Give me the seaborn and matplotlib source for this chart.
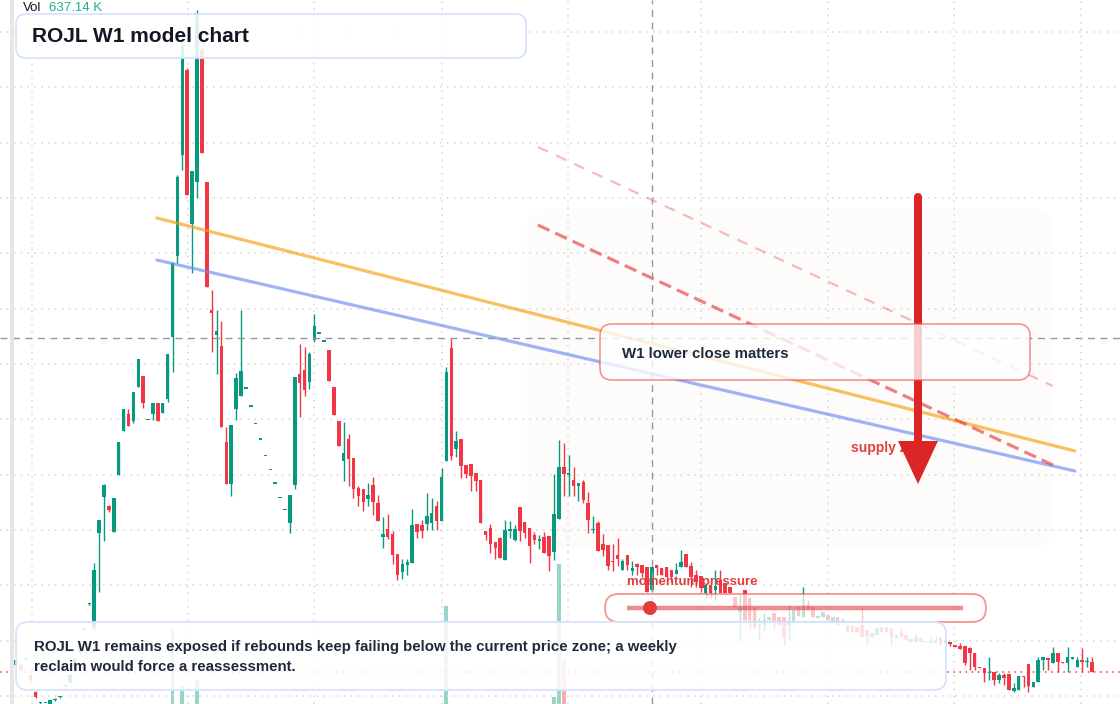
import numpy as np
import pandas as pd
import matplotlib
matplotlib.use("Agg")
import matplotlib.pyplot as plt
import seaborn as sns
from matplotlib.patches import FancyBboxPatch, FancyArrow, Rectangle, Circle

# weekly candles, prices (arbitrary price units)
opens = [0.39, 0.39, 0.45, 0.29, 0.12, 0.01, 0.01, 0.00, 0.04, 0.07,
         0.18, 0.22, 0.37, 0.52, 0.75, 1.00, 0.76, 1.71, 2.07, 1.98,
         1.72, 2.29, 2.73, 2.90, 2.83, 3.17, 3.28, 2.84, 2.90, 3.01,
         2.91, 3.05, 3.67, 4.48, 5.49, 6.34, 4.80, 5.22, 6.54, 5.22,
         3.94, 3.69, 3.58, 2.62, 2.20, 2.95, 3.08, 3.15, 2.97, 2.80,
         2.64, 2.48, 2.34, 2.20, 2.06, 1.94, 1.81, 2.19, 3.30, 3.34,
         3.22, 3.64, 3.70, 3.62, 3.54, 3.17, 2.83, 2.43, 2.65, 2.46,
         2.16, 2.15, 2.05, 2.19, 2.01, 1.67, 1.75, 1.70, 1.50, 1.32,
         1.39, 1.41, 1.80, 1.79, 1.80, 1.81, 1.98, 1.83, 2.43, 3.56,
         2.55, 2.65, 2.39, 2.40, 2.31, 2.24, 1.73, 1.76, 1.62, 1.66,
         1.44, 1.73, 1.64, 1.97, 1.82, 1.76, 1.69, 1.63, 1.67, 1.68,
         1.52, 1.85, 2.37, 2.29, 2.24, 2.18, 2.22, 2.01, 1.74, 1.81,
         1.60, 1.59, 1.43, 1.49, 1.34, 1.49, 1.33, 1.40, 1.39, 1.37,
         1.14, 1.39, 1.36, 1.37, 1.34, 1.30, 1.37, 1.50, 1.38, 1.29,
         1.28, 1.11, 1.19, 1.14, 1.24, 1.21, 1.17, 1.07, 0.92, 1.14,
         1.06, 0.97, 0.78, 0.79, 0.84, 0.91, 0.87, 0.87, 0.79, 0.82,
         0.97, 0.87, 0.99, 0.97, 0.86, 0.87, 0.89, 0.82, 0.87, 0.82,
         0.79, 0.78, 0.77, 0.79, 0.74, 0.67, 0.69, 0.77, 0.77, 0.76,
         0.66, 0.72, 0.69, 0.62, 0.62, 0.66, 0.62, 0.61, 0.61, 0.67,
         0.61, 0.62, 0.59, 0.58, 0.58, 0.56, 0.51, 0.37, 0.36, 0.31,
         0.32, 0.24, 0.29, 0.30, 0.13, 0.14, 0.28, 0.40, 0.17, 0.22,
         0.44, 0.46, 0.41, 0.51, 0.42, 0.41, 0.45, 0.37, 0.44, 0.42,
         0.42]
highs = [0.45, 0.40, 0.46, 0.30, 0.13, 0.02, 0.01, 0.04, 0.06, 0.08,
         0.19, 0.30, 0.46, 0.60, 0.76, 1.01, 1.41, 1.84, 2.20, 1.99,
         2.06, 2.62, 2.95, 2.95, 3.12, 3.45, 3.28, 2.84, 3.01, 3.01,
         3.01, 3.50, 4.41, 5.29, 6.62, 6.36, 5.33, 6.94, 6.56, 5.22,
         4.14, 3.94, 3.83, 2.77, 2.79, 3.31, 3.94, 3.15, 2.97, 2.80,
         2.64, 2.48, 2.34, 2.20, 2.06, 1.94, 2.09, 3.27, 3.60, 3.57,
         3.52, 3.90, 3.70, 3.62, 3.54, 3.17, 2.83, 2.82, 2.70, 2.46,
         2.18, 2.15, 2.21, 2.27, 2.09, 1.87, 1.90, 1.73, 1.50, 1.45,
         1.45, 1.95, 1.80, 1.84, 2.11, 2.06, 2.03, 2.36, 3.37, 3.66,
         2.73, 2.65, 2.39, 2.40, 2.31, 2.24, 1.73, 1.80, 1.62, 1.67,
         1.84, 1.83, 1.79, 1.97, 1.82, 1.76, 1.72, 1.69, 1.72, 1.68,
         2.30, 2.64, 2.61, 2.49, 2.37, 2.21, 2.24, 2.12, 1.88, 1.83,
         1.70, 1.59, 1.60, 1.66, 1.45, 1.49, 1.43, 1.41, 1.39, 1.37,
         1.37, 1.39, 1.36, 1.37, 1.34, 1.41, 1.54, 1.50, 1.42, 1.34,
         1.28, 1.19, 1.19, 1.34, 1.34, 1.21, 1.17, 1.07, 1.09, 1.14,
         1.06, 0.97, 0.86, 0.91, 0.87, 0.91, 0.87, 0.87, 0.99, 0.94,
         0.97, 1.17, 1.04, 0.97, 0.88, 0.92, 0.89, 0.87, 0.87, 0.86,
         0.79, 0.78, 0.77, 0.96, 0.74, 0.71, 0.76, 0.77, 0.77, 0.76,
         0.69, 0.76, 0.69, 0.65, 0.71, 0.66, 0.63, 0.67, 0.69, 0.67,
         0.64, 0.62, 0.59, 0.61, 0.58, 0.57, 0.51, 0.37, 0.36, 0.47,
         0.32, 0.31, 0.31, 0.30, 0.21, 0.28, 0.28, 0.40, 0.22, 0.47,
         0.47, 0.46, 0.57, 0.51, 0.42, 0.57, 0.47, 0.47, 0.56, 0.47,
         0.47]
lows = [0.37, 0.33, 0.44, 0.22, 0.06, 0.00, 0.01, 0.00, 0.03, 0.06,
        0.17, 0.21, 0.36, 0.50, 0.74, 0.99, 0.74, 1.12, 1.63, 1.92,
        1.72, 2.29, 2.73, 2.78, 2.81, 3.17, 2.96, 2.84, 2.84, 2.83,
        2.91, 3.02, 3.32, 4.41, 5.34, 5.09, 4.31, 5.06, 5.51, 4.17,
        3.52, 3.30, 2.77, 2.20, 2.08, 2.84, 3.08, 3.15, 2.97, 2.80,
        2.64, 2.48, 2.34, 2.20, 2.06, 1.94, 1.71, 2.15, 2.87, 3.08,
        3.15, 3.62, 3.70, 3.62, 3.23, 2.89, 2.58, 2.23, 2.18, 2.06,
        1.98, 1.93, 1.98, 1.89, 1.83, 1.56, 1.65, 1.40, 1.24, 1.25,
        1.29, 1.41, 1.66, 1.66, 1.74, 1.74, 1.74, 1.83, 2.43, 2.44,
        2.47, 2.26, 2.26, 2.13, 2.13, 1.81, 1.64, 1.51, 1.45, 1.46,
        1.44, 1.66, 1.63, 1.63, 1.66, 1.41, 1.60, 1.55, 1.51, 1.33,
        1.44, 1.85, 2.08, 2.08, 2.08, 2.03, 2.01, 1.71, 1.71, 1.53,
        1.48, 1.34, 1.33, 1.38, 1.34, 1.34, 1.29, 1.29, 1.27, 1.12,
        1.12, 1.29, 1.29, 1.26, 1.22, 1.30, 1.37, 1.37, 1.17, 1.17,
        1.12, 1.06, 1.06, 1.04, 1.11, 1.11, 1.11, 0.97, 0.64, 0.84,
        0.74, 0.76, 0.64, 0.74, 0.84, 0.74, 0.79, 0.59, 0.64, 0.82,
        0.88, 0.87, 0.94, 0.87, 0.86, 0.87, 0.84, 0.82, 0.79, 0.80,
        0.72, 0.72, 0.72, 0.67, 0.59, 0.67, 0.69, 0.72, 0.72, 0.59,
        0.66, 0.67, 0.64, 0.62, 0.62, 0.62, 0.62, 0.61, 0.61, 0.59,
        0.61, 0.58, 0.57, 0.55, 0.39, 0.34, 0.34, 0.36, 0.22, 0.24,
        0.19, 0.21, 0.19, 0.14, 0.12, 0.14, 0.17, 0.12, 0.17, 0.22,
        0.34, 0.34, 0.41, 0.32, 0.41, 0.32, 0.45, 0.37, 0.32, 0.37,
        0.32]
closes = [0.44, 0.34, 0.45, 0.24, 0.07, 0.01, 0.01, 0.04, 0.05, 0.07,
          0.18, 0.29, 0.45, 0.59, 0.75, 1.00, 1.34, 1.84, 2.19, 1.94,
          2.06, 2.62, 2.95, 2.78, 3.12, 3.45, 3.01, 2.84, 3.01, 2.83,
          3.01, 3.50, 4.41, 5.27, 6.59, 5.09, 5.33, 6.91, 5.51, 4.17,
          3.91, 3.73, 2.77, 2.20, 2.79, 3.26, 3.33, 3.15, 2.97, 2.80,
          2.64, 2.48, 2.34, 2.20, 2.06, 1.94, 2.09, 3.27, 3.21, 3.14,
          3.50, 3.78, 3.70, 3.62, 3.23, 2.89, 2.58, 2.51, 2.45, 2.15,
          2.08, 2.02, 2.09, 2.02, 1.83, 1.70, 1.67, 1.49, 1.29, 1.40,
          1.42, 1.79, 1.72, 1.73, 1.88, 1.91, 1.83, 2.27, 3.32, 2.48,
          2.63, 2.38, 2.30, 2.28, 2.23, 1.81, 1.69, 1.60, 1.56, 1.46,
          1.74, 1.75, 1.75, 1.73, 1.71, 1.58, 1.64, 1.65, 1.51, 1.48,
          1.90, 2.37, 2.30, 2.31, 2.18, 2.21, 2.04, 1.84, 1.75, 1.53,
          1.54, 1.38, 1.42, 1.45, 1.43, 1.39, 1.36, 1.37, 1.31, 1.12,
          1.37, 1.36, 1.29, 1.27, 1.27, 1.34, 1.42, 1.37, 1.27, 1.22,
          1.16, 1.19, 1.11, 1.18, 1.11, 1.11, 1.11, 0.97, 0.97, 0.84,
          0.84, 0.76, 0.80, 0.84, 0.87, 0.82, 0.79, 0.67, 0.82, 0.94,
          0.88, 0.99, 0.94, 0.87, 0.88, 0.92, 0.84, 0.87, 0.79, 0.84,
          0.72, 0.72, 0.72, 0.67, 0.67, 0.71, 0.76, 0.72, 0.72, 0.67,
          0.69, 0.67, 0.64, 0.65, 0.67, 0.62, 0.63, 0.63, 0.64, 0.59,
          0.64, 0.60, 0.57, 0.55, 0.41, 0.51, 0.37, 0.36, 0.31, 0.32,
          0.24, 0.29, 0.26, 0.14, 0.16, 0.28, 0.27, 0.18, 0.22, 0.44,
          0.47, 0.44, 0.51, 0.42, 0.41, 0.47, 0.47, 0.44, 0.42, 0.43,
          0.32]

# only the weeks whose volume bar is tall enough to show (millions)
vol_weeks = [32, 34, 37, 88, 110, 111, 112]
vol_millions = [2.96, 0.72, 0.96, 3.92, 0.28, 5.60, 1.80]
last_volume = "637.14 K"

title = "ROJL W1 model chart"
note = ["ROJL W1 remains exposed if rebounds keep failing below the current price zone; a weekly",
        "reclaim would force a reassessment."]

UP = "#089981"
DOWN = "#f23645"
INK = "#131722"

sns.set_theme(style="white")
plt.rcParams['font.family'] = ['Liberation Sans', 'DejaVu Sans']

df = pd.DataFrame({"open": opens, "high": highs, "low": lows, "close": closes})
df["week"] = np.arange(len(df))
df["color"] = np.where(df["close"] >= df["open"], UP, DOWN)

W, H = 1120, 704
fig = plt.figure(figsize=(W / 100, H / 100), dpi=100)
fig.patch.set_facecolor("white")

# layers: volume (bottom), price, annotations (pixel coords on top)
vax = fig.add_axes([0, 0, 1, 1])
ax = fig.add_axes([0, 0, 1, 1])
ov = fig.add_axes([0, 0, 1, 1])
ax.patch.set_visible(False)
ov.patch.set_visible(False)

xlim = (-16 / 4.891, (W - 16) / 4.891)
ov.set_xlim(0, W)
ov.set_ylim(H, 0)

# grid
for p in np.arange(0.08, 7.0, 0.5533):
    ax.axhline(p, color="#d4d4d4", lw=1.1, ls=(0, (1, 3.5)), zorder=0)
for wk in [3.3, 35.2, 60.9, 87.1, 112.9, 140.0, 166.0, 191.8, 217.7]:
    ax.axvline(wk, color="#d4d4d4", lw=1.1, ls=(0, (1, 3.5)), zorder=0)

# highlighted zone behind the candles
vax.add_patch(FancyBboxPatch((527, 208), 525, 340, boxstyle="round,pad=0,rounding_size=22",
                             transform=ov.transData, fc="#fbeee2", ec="none", alpha=0.12))

# volume
vcolors = [df["color"][w] for w in vol_weeks]
vax.bar(vol_weeks, vol_millions, width=0.8, color=vcolors, alpha=0.42, linewidth=0)

# candles
body_lo = df[["open", "close"]].min(axis=1)
body_h = (df["close"] - df["open"]).abs().clip(lower=0.015)
ax.vlines(df["week"], df["low"], df["high"], colors=df["color"], lw=1.0, zorder=2)
ax.bar(df["week"], body_h, bottom=body_lo, width=0.72, color=df["color"], linewidth=0, zorder=3)

# last price line and crosshair
ax.axhline(closes[-1], color=DOWN, lw=1.1, ls=(0, (1, 3)), zorder=1)
ax.axvline(130, color="#9598a1", lw=1, ls=(0, (5, 4)), zorder=6)
ax.axhline(3.66, color="#9598a1", lw=1, ls=(0, (5, 4)), zorder=6)

# trend lines
trend = pd.DataFrame({"week": [28.8, 216.5, 28.8, 216.5],
                      "price": [4.86, 2.53, 4.44, 2.33],
                      "line": ["upper", "upper", "lower", "lower"]})
sns.lineplot(data=trend, x="week", y="price", hue="line", palette={"upper": "#f59e0b", "lower": "#6b8cf0"},
             ax=ax, lw=2.3, alpha=0.65, legend=False, zorder=4)
ax.plot([106.7, 212.0], [4.79, 2.39], color="#e53e3e", alpha=0.65, lw=2.3, ls=(0, (4, 2)), zorder=4)
ax.plot([106.7, 212.0], [5.57, 3.18], color="#e53e3e", alpha=0.35, lw=1.6, ls=(0, (5, 4)), zorder=4)

for a in (vax, ax):
    a.set_xlim(*xlim)
ax.set_ylim(0, 7.04)
vax.set_ylim(0, 28.16)
for a in (vax, ax, ov):
    a.set_axis_off()

# overlay annotations (pixel coordinates)
ov.add_patch(Rectangle((10, 0), 4, H, fc="#e6e6e6", ec="none"))
ov.text(23, 8, "Vol", fontsize=9.5, color=INK, va="center")
ov.text(49, 8, last_volume, fontsize=9.5, color="#22ab94", va="center")

ov.text(851, 448, "supply zone", fontsize=10, fontweight="bold", color="#e53e3e", va="center", zorder=2)
ov.add_patch(FancyArrow(918, 197, 0, 287, width=8, head_width=40, head_length=43,
                        length_includes_head=True, color="#dc2626", lw=0, zorder=3))
ov.add_patch(Circle((918, 197), 4, color="#dc2626", lw=0, zorder=3))

ov.add_patch(FancyBboxPatch((600, 324), 430, 56, boxstyle="round,pad=0,rounding_size=12",
                            fc=(1, 1, 1, 0.78), ec=(0.94, 0.3, 0.3, 0.6), lw=1.2, zorder=4))
ov.text(622, 354, "W1 lower close matters", fontsize=10.8, fontweight="bold", color="#1e293b",
        va="center", zorder=5)

ov.add_patch(FancyBboxPatch((605, 594), 381, 28, boxstyle="round,pad=0,rounding_size=14",
                            fc=(1, 1, 1, 0.72), ec=(0.94, 0.35, 0.35, 0.65), lw=1.3, zorder=4))
ov.plot([627, 963], [608, 608], color="#e53e3e", alpha=0.6, lw=3.2, solid_capstyle="butt", zorder=5)
ov.add_patch(Circle((650, 608), 7, color="#e03e3e", lw=0, zorder=6))
ov.text(627, 582, "momentum pressure", fontsize=9.5, fontweight="bold", color="#e03e3e",
        va="center", zorder=5)

ov.add_patch(FancyBboxPatch((16, 14), 510, 44, boxstyle="round,pad=0,rounding_size=10",
                            fc=(1, 1, 1, 0.88), ec="#d6e4fb", lw=1.3, zorder=4))
ov.text(32, 36, title, fontsize=15, fontweight="bold", color=INK, va="center", zorder=5)

ov.add_patch(FancyBboxPatch((16, 622), 930, 68, boxstyle="round,pad=0,rounding_size=12",
                            fc=(1, 1, 1, 0.86), ec="#d6e4fb", lw=1.3, zorder=4))
ov.text(34, 647, note[0], fontsize=10.8, fontweight="bold", color="#1e293b", va="center", zorder=5)
ov.text(34, 667, note[1], fontsize=10.8, fontweight="bold", color="#1e293b", va="center", zorder=5)

fig.savefig("out.png", dpi=100)
